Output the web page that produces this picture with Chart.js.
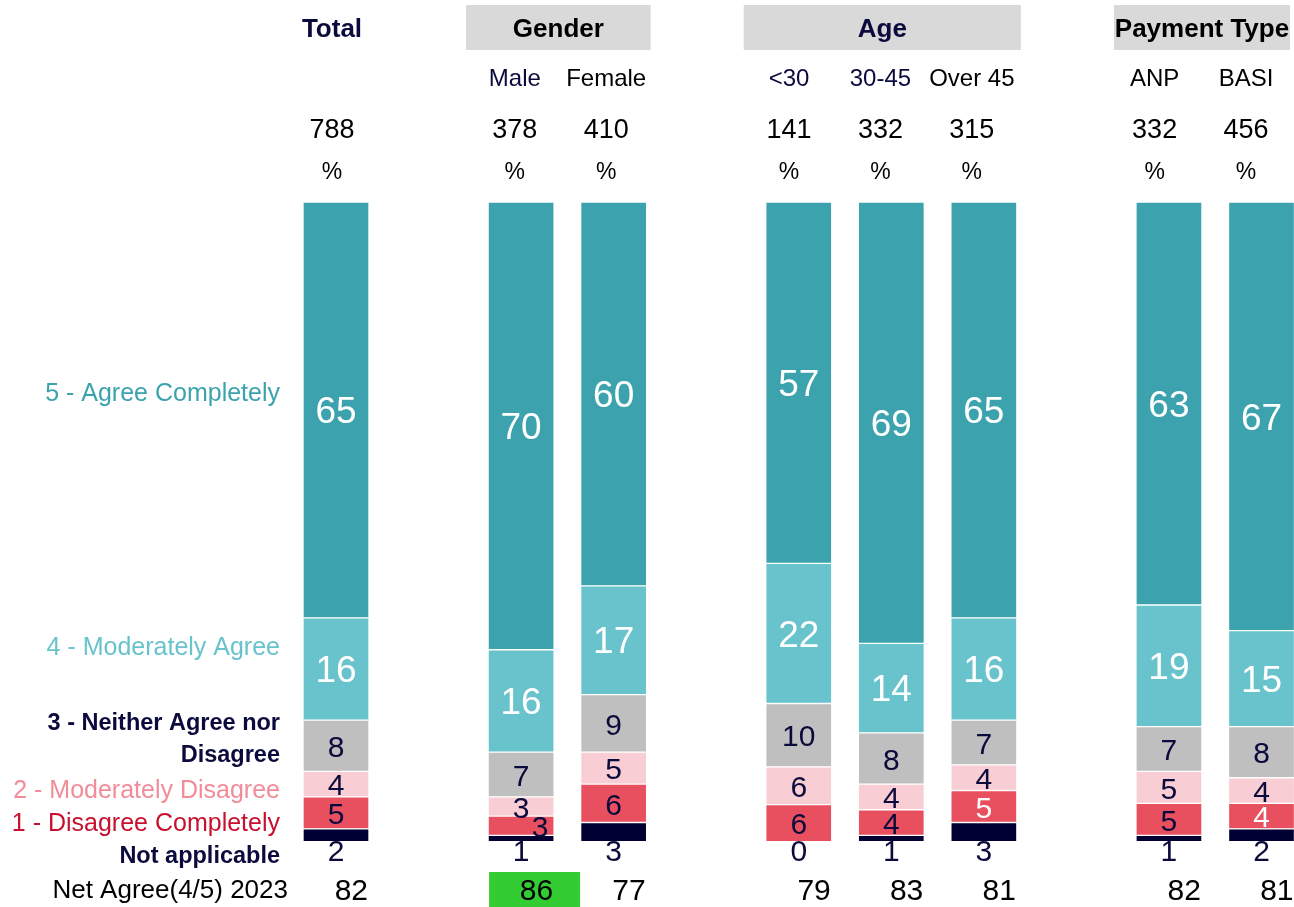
<!DOCTYPE html>
<html>
<head>
<meta charset="utf-8">
<script src="https://cdn.jsdelivr.net/npm/chart.js@4.4.1/dist/chart.umd.min.js"></script>
<style>
html,body{margin:0;padding:0;background:#ffffff;}
#wrap{width:1294px;height:907px;position:relative;}
</style>
</head>
<body>
<div id="wrap"><canvas id="c"></canvas></div>
<script>
// ---------- DATA ----------
const categories = ['Total', 'Male', 'Female', '<30', '30-45', 'Over 45', 'ANP', 'BASI'];
const groupNames = ['Total', 'Gender', 'Age', 'Payment Type'];
const groupSizes = [1, 2, 3, 2];
const baseSizes = ['788', '378', '410', '141', '332', '315', '332', '456'];
const notApplicable      = [2, 1, 3, 0,    1, 3, 1, 2];
const disagreeCompletely = [5, 3, 6, 5.8,  4, 5, 5, 4];
const moderatelyDisagree = [4, 3, 5, 5.9,  4, 4, 5, 4];
const neitherAgree       = [8, 7, 9, 9.9,  8, 7, 7, 8];
const moderatelyAgree    = [16, 16, 17, 21.9, 14, 16, 19, 15];
const agreeCompletely    = [65, 70, 60, 56.5, 69, 65, 63, 67];
const netAgree2023       = [82, 86, 77, 79, 83, 81, 82, 81];
const netAgreeHigher     = ['Male'];

// ---------- STYLE ----------
const NAVY = '#0a0a3c';
const FONT = '"Liberation Sans", Arial, sans-serif';
const groupTitleColors = [NAVY, '#000000', NAVY, '#000000'];
const subLabelColors = { 'Male': NAVY, 'Female': '#000000', '<30': NAVY, '30-45': NAVY, 'Over 45': '#000000', 'ANP': '#000000', 'BASI': '#000000' };
const whiteRedLabels = ['Over 45', 'BASI'];

// slots with gaps between groups
const slotLabels = [];
const slotIndex = [];
const groupSlots = [];
(function () {
  let ci = 0;
  groupSizes.forEach((n, g) => {
    if (g > 0) slotLabels.push('');
    const s = [];
    for (let k = 0; k < n; k++) { slotIndex.push(slotLabels.length); s.push(slotLabels.length); slotLabels.push(categories[ci++]); }
    groupSlots.push(s);
  });
})();
function toSlots(arr) {
  const out = slotLabels.map(() => null);
  arr.forEach((v, i) => { out[slotIndex[i]] = v; });
  return out;
}

const datasets = [
  { label: 'Not applicable', data: toSlots(notApplicable), backgroundColor: '#000033', labelBelow: true, labelFont: 30, labelColor: () => NAVY },
  { label: '1 - Disagree Completely', data: toSlots(disagreeCompletely), backgroundColor: '#e8505f', labelFont: 30, labelColor: (c) => whiteRedLabels.includes(c) ? '#ffffff' : NAVY },
  { label: '2 - Moderately Disagree', data: toSlots(moderatelyDisagree), backgroundColor: '#f8cdd3', labelFont: 30, labelColor: () => NAVY },
  { label: '3 - Neither Agree nor Disagree', data: toSlots(neitherAgree), backgroundColor: '#bfbfbf', labelFont: 30, labelColor: () => NAVY },
  { label: '4 - Moderately Agree', data: toSlots(moderatelyAgree), backgroundColor: '#69c3cc', labelFont: 37, labelColor: () => '#ffffff' },
  { label: '5 - Agree Completely', data: toSlots(agreeCompletely), backgroundColor: '#3ca3ae', labelFont: 37, labelColor: () => '#ffffff' }
];
datasets.forEach(d => { d.borderColor = '#ffffff'; d.borderWidth = 1; d.borderSkipped = false; d.barThickness = 66; d.clip = false; });

const leftLabels = [
  { text: '5 - Agree Completely', y: 392, color: '#3ca3ae', bold: false },
  { text: '4 - Moderately Agree', y: 646, color: '#69c3cc', bold: false },
  { text: '3 - Neither Agree nor', y: 722, color: NAVY, bold: true },
  { text: 'Disagree', y: 754, color: NAVY, bold: true },
  { text: '2 - Moderately Disagree', y: 789, color: '#f28c98', bold: false },
  { text: '1 - Disagree Completely', y: 822, color: '#c8102e', bold: false },
  { text: 'Not applicable', y: 855, color: NAVY, bold: true }
];
const TY = 2; // text baseline nudge

const segLabels = {
  id: 'segLabels',
  afterDatasetsDraw(chart) {
    const ctx = chart.ctx;
    ctx.save();
    ctx.textAlign = 'center';
    ctx.textBaseline = 'middle';
    slotIndex.forEach((slot, ci) => {
      const items = [];
      chart.data.datasets.forEach((ds, di) => {
        const v = ds.data[slot];
        if (v == null) return;
        const el = chart.getDatasetMeta(di).data[slot];
        const it = { ds, v, x: el.x, below: !!ds.labelBelow };
        it.y = it.below ? el.base + 9 + TY : (el.y + el.base) / 2 + 1 + TY;
        items.push(it);
      });
      // resolve collisions from the top down: a lower label that collides with the one above moves right
      const stacked = items.filter(i => !i.below);
      for (let k = stacked.length - 2; k >= 0; k--) {
        const upper = stacked[k + 1], lower = stacked[k];
        if (!upper.shifted && lower.y - upper.y < 22) { lower.x += 19; lower.shifted = true; }
      }
      items.forEach(it => {
        ctx.font = it.ds.labelFont + 'px ' + FONT;
        ctx.fillStyle = it.ds.labelColor(categories[ci]);
        ctx.fillText(String(Math.round(it.v)), it.x, it.y);
      });
    });
    ctx.restore();
  }
};

const frame = {
  id: 'frame',
  afterDraw(chart) {
    const ctx = chart.ctx;
    const xs = chart.scales.x;
    const firstPx = xs.getPixelForValue(slotIndex[0]);
    const hx = (slot) => { const p = xs.getPixelForValue(slot); return p - 4 - (p - firstPx) * 0.0124; };
    ctx.save();
    ctx.textBaseline = 'middle';
    // group titles
    groupSlots.forEach((slots, g) => {
      const a = xs.getPixelForValue(slots[0]);
      const b = xs.getPixelForValue(slots[slots.length - 1]);
      let cx;
      if (slots.length > 1) {
        const l = a - 55, r = Math.min(b + 37, 1290);
        ctx.fillStyle = '#d9d9d9';
        ctx.fillRect(l, 5, r - l, 45);
        cx = (l + r) / 2;
      } else {
        cx = hx(slots[0]);
      }
      ctx.font = 'bold 26px ' + FONT;
      ctx.fillStyle = groupTitleColors[g];
      ctx.textAlign = 'center';
      ctx.fillText(groupNames[g], cx, 28 + TY);
    });
    // sub labels, bases, %
    ctx.textAlign = 'center';
    slotIndex.forEach((slot, ci) => {
      const x = hx(slot);
      if (!(groupSizes[0] === 1 && ci === 0)) {
        ctx.font = '24px ' + FONT;
        ctx.fillStyle = subLabelColors[categories[ci]] || '#000';
        ctx.fillText(categories[ci], x, 77 + TY);
      }
      ctx.font = '27px ' + FONT;
      ctx.fillStyle = '#000';
      ctx.fillText(baseSizes[ci], x, 129 + TY);
      ctx.font = '23px ' + FONT;
      ctx.fillText('%', x, 171 + TY);
    });
    // left labels
    ctx.textAlign = 'right';
    leftLabels.forEach(l => {
      ctx.font = (l.bold ? 'bold 23.5px ' : '25px ') + FONT;
      ctx.fillStyle = l.color;
      ctx.fillText(l.text, 280, l.y + TY);
    });
    ctx.font = '26px ' + FONT;
    ctx.fillStyle = '#000';
    ctx.fillText('Net Agree(4/5) 2023', 288, 889 + TY);
    // net agree row
    slotIndex.forEach((slot, ci) => {
      const p = xs.getPixelForValue(slot);
      if (netAgreeHigher.includes(categories[ci])) {
        ctx.fillStyle = '#33cc33';
        ctx.fillRect(p - 32, 872, 91, 35);
      }
      ctx.font = '30px ' + FONT;
      ctx.fillStyle = '#000';
      ctx.textAlign = 'right';
      ctx.fillText(String(netAgree2023[ci]), p + 32, 890 + TY);
    });
    ctx.restore();
  }
};

new Chart(document.getElementById('c'), {
  type: 'bar',
  data: { labels: slotLabels, datasets },
  options: {
    responsive: true,
    maintainAspectRatio: false,
    animation: false,
    layout: { padding: { left: 336, right: 32.5, top: 202, bottom: 65.3 } },
    plugins: { legend: { display: false }, tooltip: { enabled: false } },
    scales: {
      x: { type: 'category', stacked: true, offset: false, display: false, grid: { display: false } },
      y: { stacked: true, min: 0, max: 100, display: false, grid: { display: false } }
    }
  },
  plugins: [segLabels, frame]
});
</script>
</body>
</html>
